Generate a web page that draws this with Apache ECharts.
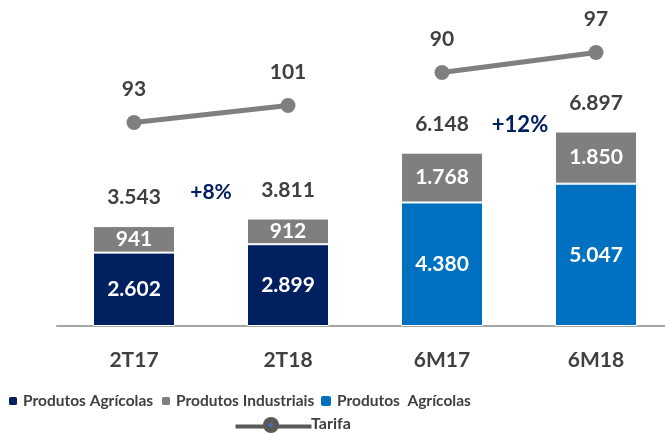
<!DOCTYPE html>
<html>
<head>
<meta charset="utf-8">
<script src="https://cdn.jsdelivr.net/npm/echarts@6/dist/echarts.min.js"></script>
<style>
html,body{margin:0;padding:0;background:#fff;}
#chart{width:665px;height:435px;}
</style>
</head>
<body>
<div id="chart"></div>
<script>
// ---- data ----
const categories = ['2T17', '2T18', '6M17', '6M18'];
const agricolasTrim = [2602, 2899, '-', '-'];
const agricolasSem = ['-', '-', 4380, 5047];
const industriais = [941, 912, 1768, 1850];
const tarifaTrim = [93, 101, '-', '-'];
const tarifaSem = ['-', '-', 90, 97];
const growthLabels = ['+8%', '+12%'];

const num = v => (v === '-' || v == null) ? 0 : v;
const totals = categories.map((c, i) => num(agricolasTrim[i]) + num(agricolasSem[i]) + num(industriais[i]));
const fmt = v => String(v).replace(/\B(?=(\d{3})+(?!\d))/g, '.');

const FONT = 'Lato';
const NAVY = '#002060', GRAY = '#7f7f7f', BLUE = '#0070c0', TXT = '#404040';

const chart = echarts.init(document.getElementById('chart'), null, {renderer: 'canvas'});

const inLabel = {
  show: true, position: 'inside', color: '#fff', fontFamily: FONT, fontWeight: 'bold', fontSize: 21,
  formatter: p => fmt(p.value)
};
const legendText = {fontFamily: FONT, fontWeight: 'bold', fontSize: 15.5, color: TXT};

chart.setOption({
  animation: false,
  backgroundColor: '#fff',
  grid: {left: 57, width: 616, top: 44, height: 282, containLabel: false, outerBoundsMode: 'none'},
  legend: [
    {data: ['Produtos Agrícolas'], left: 7, top: 393, padding: 0, itemWidth: 10, itemHeight: 10, itemGap: 0,
     textStyle: legendText, selectedMode: false},
    {data: ['Produtos Industriais'], left: 160, top: 393, padding: 0, itemWidth: 10, itemHeight: 10, itemGap: 0,
     textStyle: legendText, selectedMode: false},
    {data: ['Produtos  Agrícolas'], left: 319, top: 393, padding: 0, itemWidth: 12, itemHeight: 12, itemGap: 0,
     textStyle: legendText, selectedMode: false}
  ],
  graphic: [
    {type: 'line', left: 233, top: 424, shape: {x1: 0, y1: 0, x2: 76, y2: 0}, style: {stroke: '#595959', lineWidth: 4}, silent: true},
    {type: 'circle', left: 263, top: 417, shape: {r: 8}, style: {fill: '#595959'}, silent: true},
    {type: 'circle', left: 269, top: 423, shape: {r: 2}, style: {fill: '#4472c4'}, silent: true},
    {type: 'text', left: 311, top: 416, style: {text: 'Tarifa', fontFamily: FONT, fontWeight: 'bold', fontSize: 16, fill: TXT}, silent: true},
    {type: 'text', x: 211, y: 192, style: {text: growthLabels[0], fontFamily: FONT, fontWeight: 'bold', fontSize: 21, fill: NAVY, align: 'center', verticalAlign: 'middle'}, silent: true},
    {type: 'text', x: 520, y: 125, style: {text: growthLabels[1], fontFamily: FONT, fontWeight: 'bold', fontSize: 22, fill: NAVY, align: 'center', verticalAlign: 'middle'}, silent: true}
  ],
  xAxis: {
    type: 'category', data: categories,
    axisLine: {lineStyle: {color: '#a6a6a6', width: 2}},
    axisTick: {show: false},
    axisLabel: {color: TXT, fontFamily: FONT, fontWeight: 'bold', fontSize: 21, margin: 24}
  },
  yAxis: [
    {type: 'value', min: 0, max: 10000, show: false, splitLine: {show: false}},
    {type: 'value', min: -3, max: 130, show: false, splitLine: {show: false}},
    {type: 'value', min: 1, max: 100, show: false, splitLine: {show: false}}
  ],
  series: [
    {name: 'Produtos Agrícolas', type: 'bar', stack: 'v', data: agricolasTrim, barWidth: 82,
     itemStyle: {color: NAVY, borderColor: '#fff', borderWidth: 1}, label: inLabel},
    {name: 'Produtos  Agrícolas', type: 'bar', stack: 'v', data: agricolasSem, barWidth: 82,
     itemStyle: {color: BLUE, borderColor: '#fff', borderWidth: 1}, label: inLabel},
    {name: 'Produtos Industriais', type: 'bar', stack: 'v', data: industriais, barWidth: 82,
     itemStyle: {color: GRAY, borderColor: '#fff', borderWidth: 1}, label: inLabel},
    {name: 'Total', type: 'scatter', data: totals, symbolSize: 0, silent: true,
     itemStyle: {opacity: 1, color: 'rgba(0,0,0,0)'},
     label: {show: true, position: 'top', distance: 18, color: TXT, opacity: 1, fontFamily: FONT, fontWeight: 'bold', fontSize: 21,
             formatter: p => fmt(p.value)}},
    {name: 'Tarifa', type: 'line', yAxisIndex: 1, data: tarifaTrim, symbol: 'circle', symbolSize: 15,
     lineStyle: {color: GRAY, width: 5}, itemStyle: {color: GRAY}, z: 5,
     label: {show: true, position: 'top', distance: 15, color: TXT, fontFamily: FONT, fontWeight: 'bold', fontSize: 21}},
    {name: 'Tarifa', type: 'line', yAxisIndex: 2, data: tarifaSem, symbol: 'circle', symbolSize: 15,
     lineStyle: {color: GRAY, width: 5}, itemStyle: {color: GRAY}, z: 5,
     label: {show: true, position: 'top', distance: 15, color: TXT, fontFamily: FONT, fontWeight: 'bold', fontSize: 21}}
  ]
});
</script>
</body>
</html>
